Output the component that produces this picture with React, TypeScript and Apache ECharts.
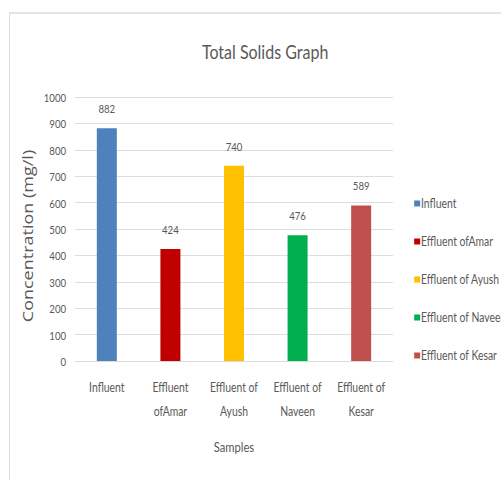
import React, { useEffect, useRef } from "react";
import * as echarts from "echarts";

const categories = [
  "Influent",
  "Effluent\nofAmar",
  "Effluent of\nAyush",
  "Effluent of\nNaveen",
  "Effluent of\nKesar",
];
const seriesNames = [
  "Influent",
  "Effluent ofAmar",
  "Effluent of Ayush",
  "Effluent of Naveen",
  "Effluent of Kesar",
];
const values = [882, 424, 740, 476, 589];
const colors = ["#4f81bd", "#c00000", "#ffc000", "#00b050", "#c0504d"];

// The chart is laid out on a wider canvas and squeezed horizontally,
// giving the narrow, condensed look of the text and bars.
const OUT_W = 501;
const OUT_H = 480;
const SQUEEZE = 0.8;
const W = Math.round(OUT_W / SQUEEZE);
const sx = (x: number) => x / SQUEEZE;

const FONT = "Lato, 'Open Sans', sans-serif";
const TEXT = "#595959";

export default function App() {
  const ref = useRef<HTMLDivElement>(null);

  useEffect(() => {
    if (!ref.current) return;
    const chart = echarts.init(ref.current, undefined, { renderer: "svg" });

    const series = seriesNames.map((name, i) => ({
      name,
      type: "bar" as const,
      stack: "samples",
      barWidth: sx(20),
      itemStyle: { color: colors[i] },
      data: values.map((v, j) => (j === i ? v : "-")),
      label: {
        show: true,
        position: "top" as const,
        distance: 14,
        color: TEXT,
        fontFamily: FONT,
        fontSize: 12,
      },
    }));

    chart.setOption({
      animation: false,
      backgroundColor: "#ffffff",
      title: {
        text: "Total Solids Graph",
        left: sx(261),
        top: 36,
        textAlign: "center",
        textStyle: { color: TEXT, fontFamily: FONT, fontSize: 20, fontWeight: "normal" },
      },
      graphic: [
        { type: "line", shape: { x1: sx(9), y1: 13, x2: W, y2: 13 }, style: { stroke: "#e4e4e4", lineWidth: 2 } },
        { type: "line", shape: { x1: sx(9.5), y1: 13, x2: sx(9.5), y2: OUT_H }, style: { stroke: "#d9d9d9", lineWidth: 1 } },
      ],
      legend: {
        orient: "vertical",
        left: sx(410),
        top: 192,
        itemGap: 25,
        itemWidth: sx(6),
        itemHeight: 6,
        icon: "rect",
        textStyle: { color: TEXT, fontFamily: FONT, fontSize: 13, padding: [0, 0, 0, -4] },
        data: seriesNames,
      },
      grid: { left: sx(75), right: sx(OUT_W - 393), top: 97, bottom: OUT_H - 361 },
      xAxis: {
        type: "category",
        data: categories,
        name: "Samples",
        nameLocation: "middle",
        nameGap: 78,
        nameTextStyle: { color: TEXT, fontFamily: FONT, fontSize: 14 },
        axisLine: { lineStyle: { color: "#d9d9d9" } },
        axisTick: { show: false },
        axisLabel: {
          color: TEXT,
          fontFamily: FONT,
          fontSize: 13,
          lineHeight: 24,
          margin: 14,
          interval: 0,
        },
      },
      yAxis: {
        type: "value",
        min: 0,
        max: 1000,
        interval: 100,
        name: "Concentration (mg/l)",
        nameLocation: "middle",
        nameGap: sx(32),
        nameTextStyle: {
          color: TEXT,
          fontFamily: "'Open Sans', sans-serif",
          fontSize: 18,
          padding: [0, 14, 0, 0],
        },
        axisLine: { show: false },
        axisTick: { show: false },
        axisLabel: {
          color: TEXT,
          fontFamily: FONT,
          fontSize: 12,
          margin: sx(9),
          formatter: (v: number) => String(v),
        },
        splitLine: { lineStyle: { color: "#d9d9d9" } },
      },
      series,
    });

    return () => chart.dispose();
  }, []);

  return (
    <div
      ref={ref}
      style={{
        position: "fixed",
        left: 0,
        top: 0,
        width: W,
        height: OUT_H,
        transform: `scaleX(${OUT_W / W})`,
        transformOrigin: "0 0",
      }}
    />
  );
}
